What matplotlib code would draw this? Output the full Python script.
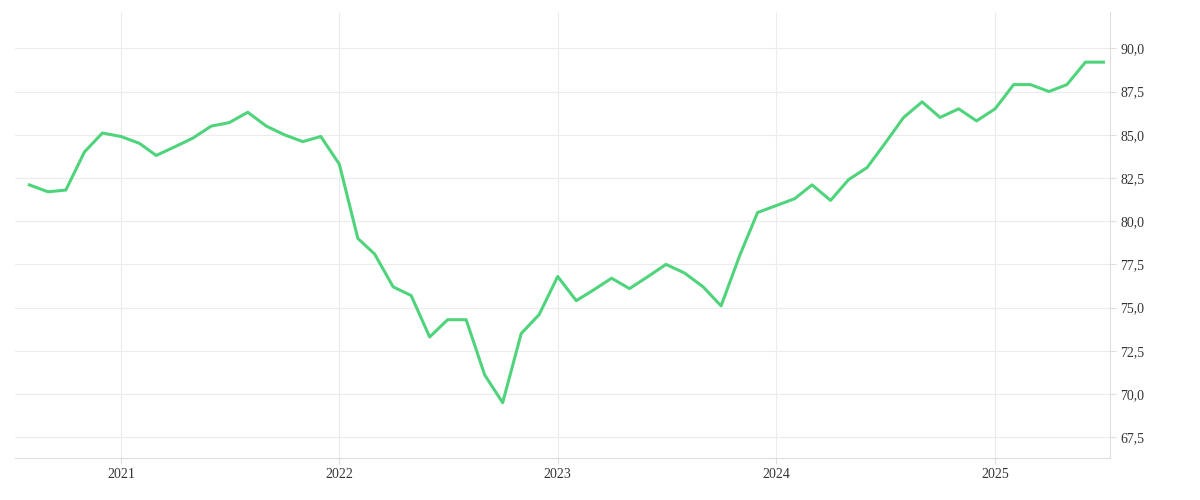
import matplotlib
matplotlib.use("Agg")
import matplotlib.pyplot as plt
import matplotlib.dates as mdates
import matplotlib.ticker as mticker
import pandas as pd

dates = pd.date_range("2020-08-01", "2025-07-01", freq="MS")
values = [82.1, 81.7, 81.8, 84.0, 85.1,
          84.9, 84.5, 83.8, 84.3, 84.8, 85.5, 85.7, 86.3, 85.5, 85.0, 84.6, 84.9,
          83.3, 79.0, 78.1, 76.2, 75.7, 73.3, 74.3, 74.3, 71.1, 69.5, 73.5, 74.6,
          76.8, 75.4, 76.0, 76.7, 76.1, 76.8, 77.5, 77.0, 76.2, 75.1, 78.0, 80.5,
          80.9, 81.3, 82.1, 81.2, 82.4, 83.1, 84.5, 86.0, 86.9, 86.0, 86.5, 85.8,
          86.5, 87.9, 87.9, 87.5, 87.9, 89.2, 89.2]

plt.rcParams['font.family'] = ['Liberation Serif', 'DejaVu Serif']
fig = plt.figure(figsize=(12, 5), dpi=100)
ax = fig.add_axes([0.0125, 0.084, 0.9125, 0.892])
ax.plot(dates, values, color="#4fd47c", lw=2.2)
ax.set_xlim(pd.Timestamp("2020-07-08"), pd.Timestamp("2025-07-12"))
ax.set_ylim(66.3, 92.1)
ax.yaxis.tick_right()
ax.yaxis.set_major_locator(mticker.MultipleLocator(2.5))
ax.yaxis.set_major_formatter(mticker.FuncFormatter(lambda v, p: f"{v:.1f}".replace(".", ",")))
ax.xaxis.set_major_locator(mdates.YearLocator())
ax.xaxis.set_major_formatter(mdates.DateFormatter("%Y"))
ax.grid(True, color="#ececec", lw=0.8)
for s in ["top", "left"]:
    ax.spines[s].set_visible(False)
for s in ["right", "bottom"]:
    ax.spines[s].set_color("#dddddd")
ax.tick_params(length=4, color="#dddddd", labelsize=10, labelcolor="#333333")
fig.savefig("out.png")
